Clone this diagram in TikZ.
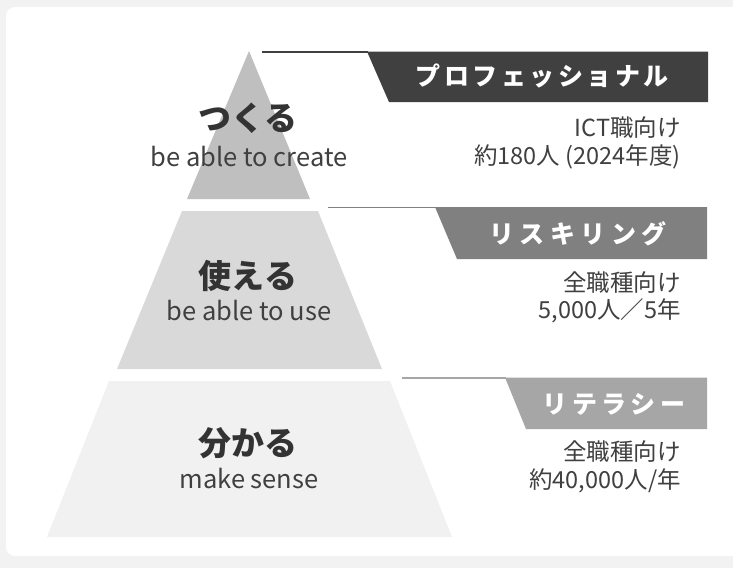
\documentclass[tikz,border=0pt]{standalone}
\usepackage{fontspec}
\setmainfont{Noto Sans CJK JP}
\definecolor{bg}{HTML}{F2F2F2}
\definecolor{lvA}{HTML}{BFBFBF}
\definecolor{lvB}{HTML}{D9D9D9}
\definecolor{lvC}{HTML}{F1F1F1}
\definecolor{bnA}{HTML}{404040}
\definecolor{bnB}{HTML}{808080}
\definecolor{bnC}{HTML}{A6A6A6}
\definecolor{txt}{HTML}{333333}
\definecolor{sub}{HTML}{404040}
\tikzset{
  jlabel/.style={font=\fontsize{33}{36}\selectfont\bfseries, text=txt, inner sep=0pt},
  elabel/.style={font=\fontsize{25.5}{28}\selectfont, text=sub, inner sep=0pt},
  desc/.style={font=\fontsize{23.5}{26}\selectfont, text=sub, inner sep=0pt, anchor=east},
  btext/.style={font=\fontsize{25}{28}\selectfont\bfseries\addfontfeature{LetterSpace=#1}, text=white, inner sep=0pt},
  btext/.default=14,
  tie/.style={line width=1.4pt},
}
\begin{document}
\begin{tikzpicture}[x=1pt,y=-1pt]
\useasboundingbox (0,0) rectangle (733,568);
\fill[bg] (0,0) rectangle (733,568);
\fill[white, rounded corners=9pt] (6,7) rectangle (760,556);
% pyramid
\fill[lvA] (249,51) -- (310,199) -- (187,199) -- cycle;
\fill[lvB] (182,211) -- (318,211) -- (382,369) -- (117,369) -- cycle;
\fill[lvC] (109,381) -- (390,381) -- (452,537) -- (47,537) -- cycle;
% banners
\fill[bnA] (367,51.5) -- (708,51.5) -- (708,102) -- (389,102) -- cycle;
\fill[bnB] (435,207) -- (707,207) -- (707,259) -- (457,259) -- cycle;
\fill[bnC] (505,377.5) -- (707,377.5) -- (707,429) -- (526,429) -- cycle;
\coordinate (sA) at (262,52);
\coordinate (eA) at (368,52);
\coordinate (sB) at (328,207.5);
\coordinate (eB) at (436,207.5);
\coordinate (sC) at (402,378);
\coordinate (eC) at (506,378);
\draw[tie, bnA] (sA) -- (eA);
\draw[tie, bnB] (sB) -- (eB);
\draw[tie, bnC] (sC) -- (eC);
% banner texts
\node[btext] (bA) at (542,76) {プロフェッショナル};
\node[btext=22] (bB) at (578,234) {リスキリング};
\node[btext=18] (bC) at (614,404) {リテラシー};
% level labels
\node[jlabel] (jA) at (248,118) {つくる};
\node[elabel] (eAl) at (249,157) {be able to create};
\node[jlabel] (jB) at (248,276) {使える};
\node[elabel] (eBl) at (249,311) {be able to use};
\node[jlabel] (jC) at (248,443) {分かる};
\node[elabel] (eCl) at (249,479) {make sense};
% descriptions
\node[desc] (dA1) at (681,128) {ICT職向け};
\node[desc] (dA2) at (681,157) {約180人 (2024年度)};
\node[desc] (dB1) at (681,283) {全職種向け};
\node[desc] (dB2) at (681,311) {5,000人／5年};
\node[desc] (dC1) at (681,452) {全職種向け};
\node[desc] (dC2) at (681,481) {約40,000人/年};
\end{tikzpicture}
\end{document}
